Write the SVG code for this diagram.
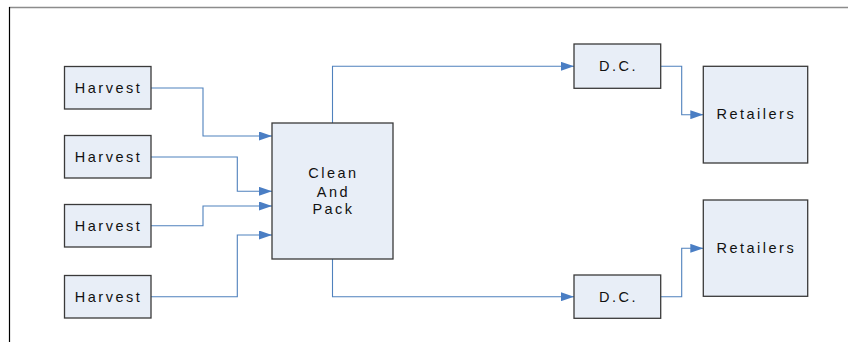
<svg xmlns="http://www.w3.org/2000/svg" width="848" height="342" viewBox="0 0 848 342">
<style>
.box{fill:#E8EEF7;stroke:#3A3A3A;stroke-width:1.3}
.lbl{font-family:"Liberation Sans",Arial,sans-serif;font-size:14.5px;letter-spacing:2.5px;fill:#111;text-anchor:middle}
.conn{fill:none;stroke:#4F81BD;stroke-width:1.1}
</style>
<defs>
<marker id="arr" markerWidth="13" markerHeight="9" refX="13" refY="4.5" orient="auto" markerUnits="userSpaceOnUse">
<path d="M0,0 L13,4.5 L0,9 Z" fill="#4A7EC4"/>
</marker>
</defs>
<rect width="848" height="342" fill="#fff"/>
<line x1="9" y1="7.5" x2="848" y2="7.5" stroke="#8C8C8C" stroke-width="1.3"/>
<line x1="9.5" y1="7" x2="9.5" y2="342" stroke="#000" stroke-width="1.2"/>
<g id="connectors">
<path class="conn" marker-end="url(#arr)" d="M151,88 H203 V136 H272"/>
<path class="conn" marker-end="url(#arr)" d="M151,157 H237.3 V191.3 H272"/>
<path class="conn" marker-end="url(#arr)" d="M151,225.7 H203 V206 H272"/>
<path class="conn" marker-end="url(#arr)" d="M151,296.7 H237.3 V235 H272"/>
<path class="conn" marker-end="url(#arr)" d="M332.5,123 V66.3 H574"/>
<path class="conn" marker-end="url(#arr)" d="M332.5,259 V296.7 H574"/>
<path class="conn" marker-end="url(#arr)" d="M660.7,66.3 H681.7 V114.7 H703.3"/>
<path class="conn" marker-end="url(#arr)" d="M660.7,296.7 H681.7 V248.3 H703.3"/>
</g>
<g id="harvest1"><rect class="box" x="64.5" y="66.5" width="86.5" height="42.5"/><text class="lbl" x="108.5" y="92.7">Harvest</text></g>
<g id="harvest2"><rect class="box" x="64.5" y="135.5" width="86.5" height="42.5"/><text class="lbl" x="108.5" y="161.7">Harvest</text></g>
<g id="harvest3"><rect class="box" x="64.5" y="204.5" width="86.5" height="42.5"/><text class="lbl" x="108.5" y="230.7">Harvest</text></g>
<g id="harvest4"><rect class="box" x="64.5" y="275.5" width="86.5" height="42.5"/><text class="lbl" x="108.5" y="301.7">Harvest</text></g>
<g id="clean"><rect class="box" x="272" y="123" width="121" height="136"/>
<text class="lbl" x="333.5" y="178">Clean</text><text class="lbl" x="333.5" y="196.5">And</text><text class="lbl" x="333.5" y="213.5">Pack</text></g>
<g id="dc1"><rect class="box" x="574" y="44" width="86.7" height="44.3"/><text class="lbl" x="618.5" y="70.7">D.C.</text></g>
<g id="dc2"><rect class="box" x="574" y="275" width="86.7" height="43.3"/><text class="lbl" x="618.5" y="301.7">D.C.</text></g>
<g id="retailers1"><rect class="box" x="703.3" y="66.3" width="104.4" height="96.7"/><text class="lbl" x="756.3" y="119.3">Retailers</text></g>
<g id="retailers2"><rect class="box" x="703.3" y="200" width="104.4" height="96.3"/><text class="lbl" x="756.3" y="253.3">Retailers</text></g>
</svg>
